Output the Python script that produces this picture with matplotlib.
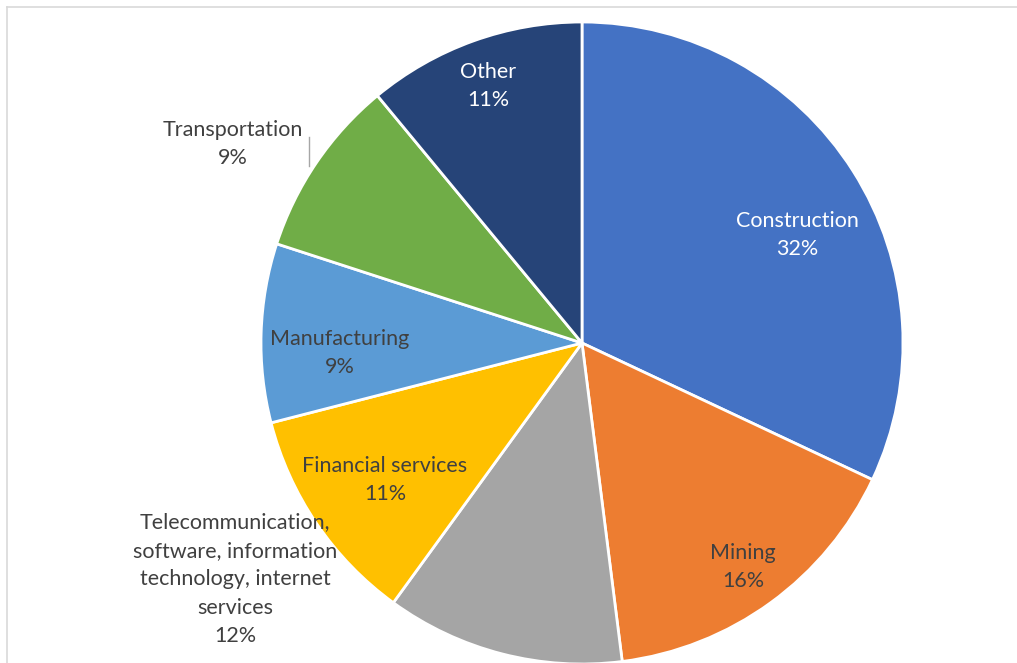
import matplotlib
matplotlib.use("Agg")
import matplotlib.pyplot as plt
from matplotlib.lines import Line2D

# sector shares, clockwise from 12 o'clock
sectors = ["Construction", "Mining",
           "Telecommunication,\nsoftware, information\ntechnology, internet\nservices",
           "Financial services", "Manufacturing", "Transportation", "Other"]
shares = [32, 16, 12, 11, 9, 9, 11]
colors = ["#4472C4", "#ED7D31", "#A5A5A5", "#FFC000", "#5B9BD5", "#70AD47", "#264478"]
text_colors = ["white", "#404040", "#404040", "#404040", "#404040", "#404040", "white"]

# where each label sits, in units of the pie radius
label_xy = [(0.670, 0.336), (0.502, -0.698), (-1.081, -0.736), (-0.614, -0.427),
            (-0.754, -0.031), (-1.087, 0.620), (-0.293, 0.801)]

plt.rcParams['font.family'] = ['Lato', 'DejaVu Sans']

W, H = 1017, 663
fig = plt.figure(figsize=(W / 100, H / 100), dpi=100)

cx, cy, R = 582, 343, 321
ax = fig.add_axes([(cx - R) / W, (H - cy - R) / H, 2 * R / W, 2 * R / H])
ax.pie(shares, colors=colors, startangle=90, counterclock=False, radius=1,
       wedgeprops=dict(edgecolor="white", linewidth=2))
ax.set_xlim(-1, 1)
ax.set_ylim(-1, 1)
ax.set_aspect("equal")
ax.axis("off")

for name, val, (x, y), tc in zip(sectors, shares, label_xy, text_colors):
    ax.text(x, y, f"{name}\n{val}%", ha="center", va="center", fontsize=15.5,
            color=tc, linespacing=1.53, clip_on=False)

# leader line for Transportation
ax.plot([-0.850, -0.850], [0.642, 0.551], color="#A6A6A6", lw=1, clip_on=False)

# chart frame
fig.add_artist(Line2D([7 / W, 7 / W], [0, (H - 7) / H], color="#D9D9D9", lw=1.2))
fig.add_artist(Line2D([7 / W, 1], [(H - 7) / H, (H - 7) / H], color="#D9D9D9", lw=1.2))

fig.savefig("out.png", dpi=100)
